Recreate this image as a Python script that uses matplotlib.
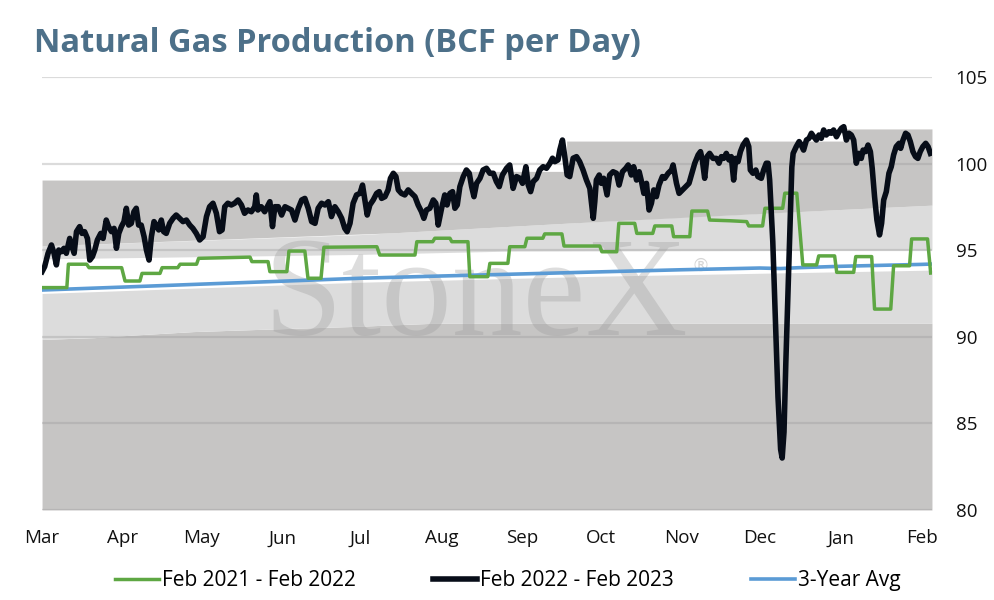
import numpy as np
import matplotlib.pyplot as plt

plt.rcParams['font.family'] = ['Open Sans', 'DejaVu Sans']

# x positions are day numbers counted from 1 March
month_days = [0, 31, 61, 92, 122, 153, 184, 214, 245, 275, 306, 337]
month_labels = ['Mar', 'Apr', 'May', 'Jun', 'Jul', 'Aug', 'Sep', 'Oct', 'Nov', 'Dec', 'Jan', 'Feb']

# background range bands (edges, BCF/d)
lo_days = [0, 20, 35, 58, 88, 120, 150, 341]
lo_edge = [89.85, 89.95, 90.1, 90.3, 90.45, 90.6, 90.78, 90.78]
wlo_days = [0, 122, 214, 341]
wlo_edge = [92.5, 93.15, 93.5, 93.85]
whi_days = [0, 120, 180, 341]
whi_edge = [94.5, 94.75, 94.95, 95.0]
up_days = [0, 122, 236, 341]
up_edge = [95.25, 95.9, 96.85, 97.6]
top_days = [0, 134, 134, 201, 201, 307, 307, 341]
top_edge = [99.05, 99.05, 99.55, 99.55, 101.3, 101.3, 102.0, 102.0]

# Feb 2021 - Feb 2022
green_days = [0, 9.5, 10.1, 17.1, 18, 30.5, 31.8, 37.5, 38.3, 45.2, 46, 52, 52.9, 59.2, 60, 79.7,
              80.4, 86.6, 87.3, 93.8, 94.6, 100.7, 101.9, 106.9, 108, 128.3, 129.4, 142.9, 143.6,
              149.7, 150.5, 156.3, 157, 163.2, 163.9, 170.8, 171.6, 178.5, 179.2, 185, 185.8, 191.9,
              192.6, 199.2, 200, 213.7, 214.5, 220.2, 221, 227.1, 227.9, 234, 234.8, 241.3, 242,
              248.2, 249, 255, 255.8, 263.5, 270, 270.8, 276.1, 277, 283.8, 284.6, 289.2, 291.5,
              296.8, 297.6, 303.7, 304.5, 311, 311.8, 317.9, 319, 325.2, 326.3, 332.4, 333.2, 339.3, 340.5]
green_vals = [92.84, 92.84, 94.19, 94.19, 93.99, 93.99, 93.22, 93.22, 93.66, 93.66, 93.99, 93.99,
              94.19, 94.19, 94.53, 94.6, 94.34, 94.34, 93.76, 93.76, 94.95, 94.95, 93.38, 93.38,
              95.17, 95.2, 94.72, 94.72, 95.49, 95.49, 95.69, 95.69, 95.49, 95.49, 93.47, 93.47,
              94.24, 94.24, 95.2, 95.2, 95.69, 95.69, 95.94, 95.94, 95.24, 95.24, 94.91, 94.91,
              96.55, 96.55, 95.97, 95.97, 96.4, 96.4, 95.78, 95.78, 97.26, 97.26, 96.74, 96.7,
              96.65, 96.4, 96.4, 97.42, 97.42, 98.29, 98.29, 94.15, 94.15, 94.67, 94.67, 93.72,
              93.72, 94.63, 94.63, 91.6, 91.6, 94.1, 94.1, 95.65, 95.65, 93.68]

# Feb 2022 - Feb 2023
black_days = [0.0, 1.0, 2.3, 3.6, 4.6, 5.5, 6.4, 7.4, 8.4, 9.3, 10.6, 11.5, 12.3, 13.2, 14.4, 15.3,
              16.3, 17.4, 18.3, 19.3, 20.2, 21.2, 22.5, 23.4, 24.6, 25.5, 26.6, 27.6, 28.5, 29.4,
              30.4, 31.4, 32.3, 33.2, 34.2, 35.2, 36.1, 37.0, 38.0, 39.1, 40.0, 41.0, 41.9, 42.9,
              43.8, 44.7, 45.7, 46.6, 47.6, 48.9, 50.2, 51.4, 52.7, 54.0, 55.3, 56.6, 57.8, 59.1,
              60.4, 61.7, 63.0, 64.2, 65.5, 66.8, 68.0, 69.0, 70.0, 71.2, 72.5, 73.8, 75.1, 76.4,
              77.6, 78.9, 80.2, 81.5, 82.1, 82.7, 84.0, 85.3, 87.3, 88.3, 89.2, 90.5, 91.8, 93.1,
              94.3, 95.6, 96.9, 98.2, 99.5, 100.7, 102.0, 103.3, 104.6, 105.8, 107.1, 108.4, 109.7,
              110.9, 112.2, 113.5, 114.8, 116.0, 116.9, 118.0, 119.2, 120.5, 121.8, 122.8, 123.7,
              124.6, 125.6, 126.9, 128.2, 129.2, 130.1, 131.4, 132.6, 133.5, 134.6, 135.6, 136.5,
              137.7, 139.0, 140.3, 141.6, 142.9, 144.1, 145.4, 146.3, 147.3, 148.6, 149.9, 150.9,
              151.8, 153.1, 154.3, 155.2, 156.3, 157.3, 158.2, 159.1, 160.1, 161.4, 162.6, 163.7,
              164.6, 165.5, 166.5, 167.8, 169.0, 170.3, 171.6, 172.9, 174.1, 175.2, 176.4, 178.0,
              179.2, 180.5, 181.8, 183.1, 184.1, 185.4, 186.3, 187.2, 188.2, 189.5, 190.7, 192.0,
              193.3, 194.6, 195.6, 196.5, 197.7, 198.4, 199.4, 200.3, 201.2, 202.2, 203.5, 204.8,
              206.0, 207.3, 208.6, 209.9, 211.2, 211.8, 212.4, 213.5, 214.3, 215.2, 216.5, 217.5,
              218.8, 220.1, 221.1, 222.4, 223.7, 224.6, 225.8, 226.7, 227.8, 228.8, 229.7, 230.6,
              231.6, 232.6, 233.5, 234.4, 235.4, 236.4, 237.7, 238.6, 239.9, 241.2, 241.8, 243.1,
              244.1, 245.4, 246.6, 247.9, 248.8, 250.1, 251.4, 252.3, 253.0, 253.9, 254.8, 255.8,
              257.1, 258.4, 259.4, 260.3, 261.2, 262.2, 263.2, 264.1, 265.0, 265.8, 266.7, 267.6,
              268.6, 269.9, 270.8, 271.4, 272.4, 273.5, 274.3, 275.6, 276.5, 277.5, 278.2, 278.8,
              280.0, 281.0, 282.0, 283.0, 283.6, 284.3, 285.0, 285.8, 286.6, 287.3, 287.8, 289.0,
              290.1, 290.9, 291.8, 292.9, 293.9, 294.8, 295.7, 296.7, 297.7, 298.6, 299.5, 300.5,
              301.5, 302.4, 303.3, 304.4, 305.4, 306.3, 307.2, 308.2, 309.2, 310.1, 311.0, 312.0,
              313.0, 313.9, 314.6, 315.6, 316.5, 317.4, 318.1, 319.0, 319.9, 320.9, 321.7, 322.5,
              323.5, 324.5, 325.4, 326.3, 327.3, 328.4, 329.0, 329.9, 330.9, 331.8, 332.7, 333.7,
              334.7, 335.6, 336.5, 337.5, 338.6, 339.5, 340.4]
black_vals = [93.76, 94.05, 94.82, 95.30, 94.82, 94.15, 95.01, 94.91, 95.11, 94.82, 95.68, 95.20,
              94.82, 96.07, 96.36, 95.97, 96.07, 95.68, 94.43, 94.63, 95.01, 95.59, 95.97, 95.68,
              96.74, 96.36, 96.07, 96.26, 95.11, 95.97, 96.36, 96.65, 97.42, 96.45, 96.55, 97.22,
              97.42, 96.45, 96.45, 95.78, 95.01, 94.43, 95.78, 96.65, 96.45, 96.17, 96.74, 96.07,
              95.97, 96.55, 96.84, 97.03, 96.84, 96.65, 96.74, 96.45, 96.26, 95.97, 95.59, 95.78,
              96.94, 97.51, 97.71, 97.13, 96.07, 96.17, 97.51, 97.71, 97.61, 97.71, 97.90, 97.61,
              97.13, 97.32, 97.22, 97.51, 98.19, 97.32, 97.51, 97.22, 97.80, 96.36, 97.51, 97.51,
              97.03, 97.51, 97.42, 97.32, 96.74, 97.42, 97.90, 97.99, 97.42, 96.65, 96.55, 97.42,
              97.71, 97.61, 97.80, 96.94, 97.51, 97.22, 96.84, 96.26, 96.07, 96.55, 97.71, 98.19,
              98.28, 98.76, 97.90, 97.03, 97.61, 97.90, 98.28, 98.38, 97.99, 98.09, 98.48, 99.15,
              99.44, 99.25, 98.48, 98.28, 98.19, 98.48, 98.28, 98.09, 97.61, 97.22, 96.84, 97.32,
              97.42, 97.90, 97.71, 96.45, 97.42, 98.19, 97.61, 98.28, 98.38, 97.42, 97.61, 98.67,
              99.25, 99.63, 99.44, 98.67, 98.09, 98.86, 99.15, 99.63, 99.73, 99.44, 99.44, 98.96,
              98.67, 99.34, 99.73, 99.92, 98.57, 99.25, 99.15, 98.86, 99.82, 98.76, 98.38, 98.96,
              99.15, 99.63, 99.82, 99.73, 100.02, 100.31, 100.11, 100.21, 100.79, 101.36, 100.40,
              99.34, 99.25, 100.31, 100.40, 100.11, 99.63, 99.05, 98.57, 96.84, 97.80, 99.05, 99.34,
              98.86, 99.15, 98.19, 99.34, 99.53, 99.44, 98.76, 99.53, 99.73, 99.92, 99.34, 99.82,
              99.05, 99.53, 98.96, 98.28, 98.86, 97.32, 97.71, 98.48, 98.09, 98.76, 99.25, 99.15,
              99.44, 99.63, 99.92, 98.86, 98.28, 98.48, 98.67, 98.86, 99.34, 100.02, 100.50, 100.69,
              100.21, 99.15, 100.40, 100.59, 100.30, 100.30, 100.02, 100.40, 100.30, 100.59, 100.21,
              100.40, 99.05, 100.30, 100.11, 100.69, 101.07, 101.36, 100.98, 99.63, 99.44, 99.63,
              99.25, 99.15, 99.63, 100.02, 100.02, 99.05, 95.5, 91.0, 86.5, 83.5, 83.0, 84.5, 88.5,
              92.5, 96.5, 99.8, 100.59, 100.98, 101.27, 101.07, 100.78, 101.36, 101.46, 101.75,
              101.55, 101.36, 101.65, 101.46, 101.94, 101.65, 101.84, 101.75, 101.94, 101.55,
              101.84, 102.04, 102.13, 101.36, 101.75, 101.65, 101.36, 100.02, 100.59, 100.30,
              100.78, 100.69, 101.07, 100.69, 99.73, 98.09, 96.74, 95.88, 96.55, 97.90, 98.38,
              99.44, 99.82, 100.50, 100.98, 101.17, 100.88, 101.36, 101.75, 101.65, 101.27, 100.69,
              100.40, 100.30, 100.69, 100.98, 101.17, 100.98, 100.59]

# 3-year average
avg_days = [0, 31, 61, 92, 122, 153, 184, 214, 245, 275, 283, 290, 306, 337, 341]
avg_vals = [92.70, 92.87, 93.04, 93.21, 93.38, 93.51, 93.63, 93.75, 93.87, 93.97, 93.94,
            93.99, 94.07, 94.18, 94.20]

fig = plt.figure(figsize=(9.94, 6.0), dpi=100)
ax = fig.add_axes([0.0423, 0.15, 0.8953, 0.7217])

dark = '#c6c5c4'
light = '#dcdcdc'
xs = np.arange(0, 342)
lo = np.interp(xs, lo_days, lo_edge)
wlo = np.interp(xs, wlo_days, wlo_edge)
whi = np.interp(xs, whi_days, whi_edge)
up = np.interp(xs, up_days, up_edge)
ax.fill_between(xs, 80, lo, color=dark, lw=0, zorder=1)
ax.fill_between(xs, lo, wlo, color=light, lw=0, zorder=1)
ax.fill_between(xs, whi, up, color=light, lw=0, zorder=1)
ax.fill_between(top_days, np.interp(top_days, up_days, up_edge), top_edge,
                color=dark, lw=0, zorder=1)

for v in range(80, 106, 5):
    ax.axhline(v, color='#999999', alpha=0.35, lw=1.6, zorder=2)

ax.text(0.487, 0.405, 'StoneX', transform=ax.transAxes, ha='center', va='baseline',
        family='Liberation Serif', fontsize=102, color='#9a9a9a', alpha=0.33, zorder=3)
ax.text(0.74, 0.565, '®', transform=ax.transAxes, ha='center', va='center',
        family='DejaVu Sans', fontsize=13, color='#9a9a9a', alpha=0.4, zorder=3)

ax.plot(avg_days, avg_vals, color='#5b9bd5', lw=2.6, zorder=4, label='3-Year Avg')
ax.plot(green_days, green_vals, color='#5ea743', lw=2.5, zorder=5, label='Feb 2021 - Feb 2022')
ax.plot(black_days, black_vals, color='#070d18', lw=4.0, zorder=6, solid_joinstyle='round',
        label='Feb 2022 - Feb 2023')

ax.set_xlim(0, 341)
ax.set_ylim(80, 105)
ax.set_xticks(month_days)
ax.set_xticklabels(month_labels)
ax.set_yticks(range(80, 106, 5))
ax.yaxis.tick_right()
ax.tick_params(axis='x', length=0, pad=14, labelsize=13.5, labelcolor='#111111')
ax.tick_params(axis='y', length=0, pad=17, labelsize=13.5, labelcolor='#111111')
for s in ax.spines.values():
    s.set_visible(False)

fig.text(0.034, 0.928, 'Natural Gas Production (BCF per Day)', fontsize=23.5,
         fontweight='bold', color='#4d7089', va='center', ha='left')

h, l = ax.get_legend_handles_labels()
order = [1, 2, 0]
fig.legend([h[i] for i in order], [l[i] for i in order], loc='center', ncol=3,
           bbox_to_anchor=(0.511, 0.032), frameon=False, fontsize=15,
           handlelength=2.1, handletextpad=0.15, columnspacing=3.7)

fig.savefig('out.png', dpi=100)
